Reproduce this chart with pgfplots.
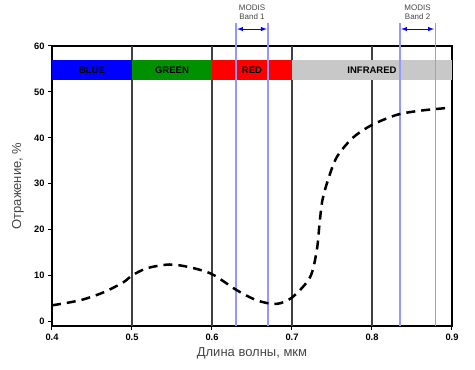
\documentclass[border=0pt]{standalone}
\usepackage{fontspec}
\setmainfont{Liberation Sans}
\usepackage{pgfplots}
\pgfplotsset{compat=1.18}
\definecolor{bandgreen}{RGB}{0,145,0}
\definecolor{irgray}{RGB}{200,200,200}
\definecolor{modisblue}{RGB}{150,150,255}
\definecolor{labgray}{RGB}{70,70,70}
\begin{document}
\begin{tikzpicture}
\begin{axis}[
  at={(0pt,0pt)}, anchor=south west,
  scale only axis, width=400pt, height=280pt,
  xmin=0.4, xmax=0.9, ymin=-1, ymax=60,
  xtick={0.4,0.5,0.6,0.7,0.8,0.9},
  ytick={0,10,20,30,40,50,60},
  xticklabel style={/pgf/number format/fixed,/pgf/number format/precision=1,/pgf/number format/fixed zerofill},
  /pgf/number format/assume math mode=true,
  ticklabel style={font=\bfseries\fontsize{9.3}{11}\selectfont},
  tick align=outside, tick style={black, line width=1pt}, major tick length=4pt,
  xtick pos=bottom, ytick pos=left,
  axis line style={black, line width=1.6pt},
  clip=false,
  xlabel={Длина волны, мкм}, ylabel={Отражение, \%},
  label style={font=\fontsize{13}{15}\selectfont, text=labgray},
  xlabel style={at={(axis description cs:0.5,0)}, anchor=center, yshift=-27pt},
  ylabel style={at={(axis description cs:0,0.5)}, anchor=center, yshift=34pt},
]
% vertical dividers (interrupted by the colour band)
\addplot[black!75, line width=1.1pt] coordinates {(0.5,-1) (0.5,52.5)};
\addplot[black!75, line width=1.1pt] coordinates {(0.6,-1) (0.6,52.5)};
\addplot[black!75, line width=1.1pt] coordinates {(0.7,-1) (0.7,52.5)};
\addplot[black!75, line width=1.1pt] coordinates {(0.8,-1) (0.8,52.5)};
\addplot[black!75, line width=1.1pt] coordinates {(0.5,57) (0.5,60)};
\addplot[black!75, line width=1.1pt] coordinates {(0.6,57) (0.6,60)};
\addplot[black!75, line width=1.1pt] coordinates {(0.7,57) (0.7,60)};
\addplot[black!75, line width=1.1pt] coordinates {(0.8,57) (0.8,60)};
% spectral bands
\addplot[fill=blue, draw=none] coordinates {(0.4,52.5) (0.5,52.5) (0.5,57) (0.4,57)} -- cycle;
\addplot[fill=bandgreen, draw=none] coordinates {(0.5,52.5) (0.6,52.5) (0.6,57) (0.5,57)} -- cycle;
\addplot[fill=red, draw=none] coordinates {(0.6,52.5) (0.7,52.5) (0.7,57) (0.6,57)} -- cycle;
\addplot[fill=irgray, draw=none] coordinates {(0.7,52.5) (0.9,52.5) (0.9,57) (0.7,57)} -- cycle;
\node[font=\bfseries\fontsize{9.5}{11}\selectfont] at (axis cs:0.45,54.75) {BLUE};
\node[font=\bfseries\fontsize{9.5}{11}\selectfont] at (axis cs:0.55,54.75) {GREEN};
\node[font=\bfseries\fontsize{9.5}{11}\selectfont] at (axis cs:0.65,54.75) {RED};
\node[font=\bfseries\fontsize{9.5}{11}\selectfont] at (axis cs:0.8,54.75) {INFRARED};
% MODIS bands
\addplot[modisblue, line width=1.2pt] coordinates {(0.63,-1) (0.63,65)};
\addplot[modisblue, line width=1.2pt] coordinates {(0.67,-1) (0.67,65)};
\addplot[modisblue, line width=1.2pt] coordinates {(0.835,-1) (0.835,65)};
\addplot[modisblue, line width=1.2pt] coordinates {(0.879,-1) (0.879,65)};
\addplot[blue, line width=1pt, <->, >=latex] coordinates {(0.6315,63.7) (0.6685,63.7)};
\addplot[blue, line width=1pt, <->, >=latex] coordinates {(0.8365,63.7) (0.8775,63.7)};
\node[font=\fontsize{8}{9}\selectfont, text=labgray, align=center] at (axis cs:0.65,67.3) {MODIS\\Band 1};
\node[font=\fontsize{8}{9}\selectfont, text=labgray, align=center] at (axis cs:0.857,67.3) {MODIS\\Band 2};
% reflectance curve
\addplot[black, line width=2.5pt, dash pattern=on 9pt off 6pt, smooth, tension=0.5] coordinates {
(0.4,3.5) (0.435,4.6) (0.464,6.3) (0.489,8.5) (0.5,10) (0.519,11.6) (0.547,12.4)
(0.572,11.8) (0.6,10.3) (0.631,6.8) (0.656,4.6) (0.68,3.8) (0.7,5.2) (0.7225,9.6)
(0.731,15.5) (0.7345,21.4) (0.738,26.4) (0.745,30.8) (0.756,35.8) (0.776,40)
(0.8,42.8) (0.831,45) (0.86,45.9) (0.894,46.5)};
\end{axis}
\path[use as bounding box] (-52pt,-44pt) rectangle (423pt,326pt);
\end{tikzpicture}
\end{document}
